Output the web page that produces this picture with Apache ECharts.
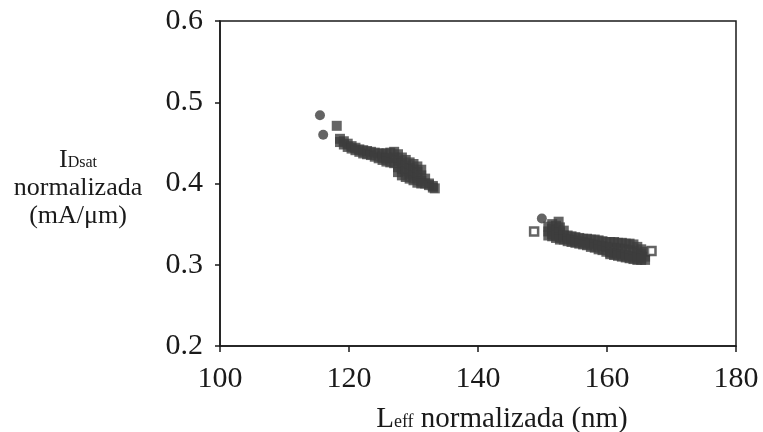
<!DOCTYPE html>
<html>
<head>
<meta charset="utf-8">
<script src="https://cdn.jsdelivr.net/npm/echarts@6/dist/echarts.min.js"></script>
<style>html,body{margin:0;padding:0;background:#fff;}#c{width:763px;height:432px;}</style>
</head>
<body>
<div id="c"></div>
<script>
// x-axis ticks and y-axis ticks
const xTicks = [100, 120, 140, 160, 180];
const yTicks = [0.2, 0.3, 0.4, 0.5, 0.6];

// round markers (Leff nm, IDsat mA/um)
const circlePoints = [[115.5, 0.484], [116.0, 0.460], [149.9, 0.357]];

// open (hollow) square markers
const openSquarePoints = [[148.7, 0.341], [166.9, 0.317]];

// filled square markers, short-channel group
const groupA = [
  [118.1, 0.471],
  [118.6, 0.455], [118.6, 0.451],
  [119.2, 0.452], [119.2, 0.448],
  [119.8, 0.449], [119.8, 0.445],
  [120.4, 0.446], [120.4, 0.443],
  [121.0, 0.444], [121.0, 0.441],
  [121.6, 0.442], [121.6, 0.439],
  [122.2, 0.441], [122.2, 0.437],
  [122.8, 0.440], [122.8, 0.436],
  [123.4, 0.439], [123.4, 0.435],
  [124.0, 0.438], [124.0, 0.433],
  [124.6, 0.437], [124.6, 0.431],
  [125.2, 0.437], [125.2, 0.433], [125.2, 0.429],
  [125.8, 0.437], [125.8, 0.431], [125.8, 0.427],
  [126.4, 0.438], [126.4, 0.431], [126.4, 0.426],
  [127.0, 0.439], [127.0, 0.432], [127.0, 0.425],
  [127.6, 0.436], [127.6, 0.428], [127.6, 0.420], [127.6, 0.414],
  [128.2, 0.432], [128.2, 0.425], [128.2, 0.418], [128.2, 0.410],
  [128.8, 0.429], [128.8, 0.422], [128.8, 0.415], [128.8, 0.408],
  [129.4, 0.426], [129.4, 0.419], [129.4, 0.412], [129.4, 0.406],
  [130.0, 0.424], [130.0, 0.417], [130.0, 0.410], [130.0, 0.404],
  [130.6, 0.421], [130.6, 0.414], [130.6, 0.407], [130.6, 0.401],
  [131.2, 0.417], [131.2, 0.410], [131.2, 0.403], [131.2, 0.400],
  [131.8, 0.406], [131.8, 0.400],
  [132.4, 0.400], [132.4, 0.398],
  [133.0, 0.397], [133.0, 0.395],
  [133.3, 0.394]
];

// filled square markers, long-channel group
const groupB = [
  [152.5, 0.353],
  [150.9, 0.347], [150.9, 0.341], [150.9, 0.336],
  [151.5, 0.350], [151.5, 0.344], [151.5, 0.338], [151.5, 0.335],
  [152.1, 0.348], [152.1, 0.342], [152.1, 0.336], [152.1, 0.333],
  [152.7, 0.346], [152.7, 0.340], [152.7, 0.334], [152.7, 0.331],
  [153.3, 0.342], [153.3, 0.336], [153.3, 0.331],
  [153.9, 0.336], [153.9, 0.332], [153.9, 0.329],
  [154.5, 0.335], [154.5, 0.331], [154.5, 0.328],
  [155.1, 0.334], [155.1, 0.330], [155.1, 0.327],
  [155.7, 0.333], [155.7, 0.329], [155.7, 0.326],
  [156.3, 0.332], [156.3, 0.328], [156.3, 0.325],
  [156.9, 0.332], [156.9, 0.327], [156.9, 0.324],
  [157.5, 0.331], [157.5, 0.326], [157.5, 0.322],
  [158.1, 0.331], [158.1, 0.325], [158.1, 0.321],
  [158.7, 0.330], [158.7, 0.324], [158.7, 0.319],
  [159.3, 0.329], [159.3, 0.323], [159.3, 0.318],
  [159.9, 0.328], [159.9, 0.322], [159.9, 0.316],
  [160.5, 0.328], [160.5, 0.321], [160.5, 0.315], [160.5, 0.313],
  [161.1, 0.328], [161.1, 0.321], [161.1, 0.315], [161.1, 0.312],
  [161.7, 0.327], [161.7, 0.320], [161.7, 0.314], [161.7, 0.311],
  [162.3, 0.327], [162.3, 0.320], [162.3, 0.313], [162.3, 0.310],
  [162.9, 0.326], [162.9, 0.319], [162.9, 0.312], [162.9, 0.309],
  [163.5, 0.326], [163.5, 0.318], [163.5, 0.311], [163.5, 0.308],
  [164.1, 0.325], [164.1, 0.317], [164.1, 0.310], [164.1, 0.307],
  [164.7, 0.322], [164.7, 0.315], [164.7, 0.309], [164.7, 0.306],
  [165.3, 0.319], [165.3, 0.313], [165.3, 0.308], [165.3, 0.306],
  [165.9, 0.316], [165.9, 0.310], [165.9, 0.306]
];

const FONT = "'Liberation Serif', 'Times New Roman', serif";
const INK = '#1a1a1a';
const DOT = '#3d3d3d';

const chart = echarts.init(document.getElementById('c'), null, {renderer: 'canvas'});
chart.setOption({
  animation: false,
  backgroundColor: '#ffffff',
  grid: {left: 220, right: 27, top: 21, bottom: 86, containLabel: false, outerBoundsMode: 'none',
         show: true, borderColor: INK, borderWidth: 1.5, backgroundColor: 'transparent'},
  xAxis: {
    type: 'value', min: xTicks[0], max: xTicks[xTicks.length - 1], interval: xTicks[1] - xTicks[0],
    splitLine: {show: false},
    axisLine: {show: true, lineStyle: {color: INK, width: 1.5}},
    axisTick: {show: true, inside: false, length: 6, lineStyle: {color: INK, width: 1.5}},
    axisLabel: {color: INK, fontFamily: FONT, fontSize: 30, margin: 18},
    name: '{b|L}{s|eff}{b| normalizada (nm)}',
    nameLocation: 'middle', nameGap: 58,
    nameTextStyle: {
      color: INK, fontFamily: FONT, padding: [0, 0, 0, 48],
      rich: {
        b: {fontFamily: FONT, fontSize: 29, color: INK, verticalAlign: 'bottom', lineHeight: 30},
        s: {fontFamily: FONT, fontSize: 18, color: INK, verticalAlign: 'bottom', lineHeight: 18, padding: [0, 0, 3, 0]}
      }
    }
  },
  yAxis: {
    type: 'value', min: yTicks[0], max: yTicks[yTicks.length - 1], interval: 0.1,
    splitLine: {show: false},
    axisLine: {show: true, lineStyle: {color: INK, width: 1.5}},
    axisTick: {show: true, inside: false, length: 5, lineStyle: {color: INK, width: 1.5}},
    axisLabel: {color: INK, fontFamily: FONT, fontSize: 30, margin: 17, formatter: v => v.toFixed(1)},
    name: '{b|I}{s|Dsat}\n{b|normalizada}\n{b|(mA/μm)}',
    nameLocation: 'middle', nameRotate: 0, nameGap: 142,
    nameTextStyle: {
      color: INK, fontFamily: FONT, align: 'center', verticalAlign: 'middle', padding: [8, 0, 0, 0],
      rich: {
        b: {fontFamily: FONT, fontSize: 26, color: INK, verticalAlign: 'bottom', lineHeight: 28},
        s: {fontFamily: FONT, fontSize: 16, color: INK, verticalAlign: 'bottom', lineHeight: 16, padding: [0, 0, 3, 0]}
      }
    }
  },
  series: [
    {type: 'scatter', data: groupA, symbol: 'rect', symbolSize: 10, itemStyle: {color: DOT}},
    {type: 'scatter', data: groupB, symbol: 'rect', symbolSize: 10, itemStyle: {color: DOT}},
    {type: 'scatter', data: circlePoints, symbol: 'circle', symbolSize: 10, itemStyle: {color: DOT}},
    {type: 'scatter', data: openSquarePoints, symbol: 'rect', symbolSize: 8, itemStyle: {color: '#ffffff', borderColor: DOT, borderWidth: 2.5}}
  ]
});
</script>
</body>
</html>
